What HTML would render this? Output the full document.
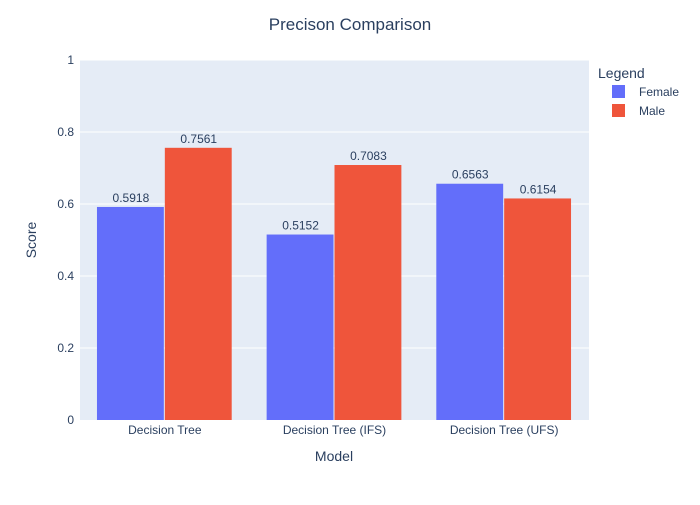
<!DOCTYPE html>
<html><head><meta charset="utf-8"><style>
body{margin:0;background:#fff;}
svg text{font-family:"Liberation Sans",Arial,sans-serif;}
</style></head><body>
<svg id="chart" width="700" height="500" xmlns="http://www.w3.org/2000/svg">
<rect x="0" y="0" width="700" height="500" fill="#fff"/>
<rect x="80" y="60" width="509" height="360" fill="#e5ecf6"/>
<g id="grid"></g>
<g id="bars"></g>
<g id="labels"></g>
<text x="350" y="30" text-anchor="middle" font-size="17" fill="#2a3f5f">Precison Comparison</text>
<text x="334" y="461" text-anchor="middle" font-size="14" fill="#2a3f5f">Model</text>
<text x="36" y="240" text-anchor="middle" font-size="14" fill="#2a3f5f" transform="rotate(-90 36 240)">Score</text>
<g>
<text x="598" y="78" font-size="14" fill="#2a3f5f">Legend</text>
<g><rect x="612" y="85" width="13" height="13" fill="#636efa"/><text x="639" y="96" font-size="12" fill="#2a3f5f">Female</text></g>
<g><rect x="612" y="104" width="13" height="13" fill="#ef553b"/><text x="639" y="115" font-size="12" fill="#2a3f5f">Male</text></g>
</g>
</svg>
<script>
const categories=["Decision Tree","Decision Tree (IFS)","Decision Tree (UFS)"];
const female=[0.5918,0.5152,0.6563];
const male=[0.7561,0.7083,0.6154];
const yTicks=[0,0.2,0.4,0.6,0.8,1];
const yTickLabels=["0","0.2","0.4","0.6","0.8","1"];
const NS="http://www.w3.org/2000/svg";
const L=80,R=589,T=60,B=420;
const y=v=>B-(B-T)*v;
const band=(R-L)/categories.length;
const x=i=>L+band*i;
function mk(tag,attrs,parent,text){const e=document.createElementNS(NS,tag);for(const k in attrs)e.setAttribute(k,attrs[k]);if(text!==undefined)e.textContent=text;document.getElementById(parent).appendChild(e);return e;}
yTicks.forEach((t,i)=>{
 if(t>0){const g=mk('line',{x1:L,x2:R,y1:y(t),y2:y(t),stroke:'#fff','stroke-width':1},'grid');
 
 }
 const l=mk('text',{x:L-6,y:y(t)+4,'text-anchor':'end','font-size':12,fill:'#2a3f5f'},'labels',yTickLabels[i]);
 
 
});
const gw=band*0.8,bw=gw/2;
categories.forEach((c,i)=>{
 const x0=x(i)+band*0.1;
 [[female,'#636efa','female'],[male,'#ef553b','male']].forEach(([arr,col,nm],j)=>{
  const v=arr[i];
  const r=mk('rect',{x:x0+j*bw,y:y(v),width:bw-1,height:y(0)-y(v),fill:col},'bars');
  
  
  const t=mk('text',{x:x0+j*bw+bw/2,y:y(v)-5,'text-anchor':'middle','font-size':12,fill:'#2a3f5f'},'labels',v.toFixed(4));
  
  
 });
 const cl=mk('text',{x:x(i)+band/2,y:B+14,'text-anchor':'middle','font-size':12,fill:'#2a3f5f'},'labels',c);
 
 
});
</script>
</body></html>
